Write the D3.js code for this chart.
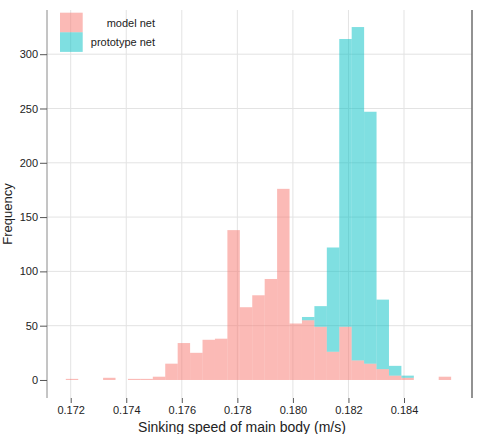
<!DOCTYPE html>
<html>
<head>
<meta charset="utf-8">
<script src="https://cdn.jsdelivr.net/npm/d3@7"></script>
<style>
  body { margin: 0; background: #fff; }
  text { font-family: "Liberation Sans", Arial, sans-serif; }
</style>
</head>
<body>
<div id="graph"></div>
<script>
// histogram bins (shared by both groups)
const binStart = 0.171824;
const binWidth = 0.0004475;

// counts per bin
const modelNet = [1, 0, 0, 2, 0, 1, 1, 3, 15, 34, 25, 37, 38, 138, 67, 78, 93, 176, 52, 55,
    49, 26, 49, 18, 15, 10, 4, 2, 0, 0, 3];
const prototypeNet = [0, 0, 0, 0, 0, 0, 0, 0, 0, 0, 0, 0, 0, 0, 0, 0, 0, 0, 0, 3,
    19, 96, 265, 307, 232, 64, 9, 2, 0, 0, 0];

const groups = ["model net", "prototype net"];
const colors = ["#F8766D", "#00BFC4"];

const xTicks = [0.172, 0.174, 0.176, 0.178, 0.180, 0.182, 0.184];
const yTicks = [0, 50, 100, 150, 200, 250, 300];

const width = 479, height = 434;
const panel = { left: 47, right: 472, top: 10, bottom: 398 };

const svg = d3.select("#graph")
    .append("svg")
    .attr("width", width)
    .attr("height", height);

let x = d3.scaleLinear()
    .domain([0.171147, 0.186448])
    .range([panel.left, panel.right]);

let y = d3.scaleLinear()
    .domain([-16.6, 340.7])
    .range([panel.bottom, panel.top]);

// gridlines
svg.append("g")
    .selectAll("line")
    .data(xTicks)
    .join("line")
    .attr("x1", d => x(d)).attr("x2", d => x(d))
    .attr("y1", panel.top).attr("y2", panel.bottom)
    .attr("stroke", "#e3e3e3");

svg.append("g")
    .selectAll("line")
    .data(yTicks.filter(d => d > 0))
    .join("line")
    .attr("x1", panel.left).attr("x2", panel.right)
    .attr("y1", d => y(d)).attr("y2", d => y(d))
    .attr("stroke", "#e3e3e3");

// stacked bars
const table = modelNet.map((m, i) => ({
    x0: binStart + i * binWidth,
    "model net": m,
    "prototype net": prototypeNet[i]
}));
const stacked = d3.stack().keys(groups)(table);

svg.append("g")
    .selectAll("g")
    .data(stacked)
    .join("g")
    .attr("fill", (d, i) => colors[i])
    .attr("fill-opacity", 0.5)
    .selectAll("rect")
    .data(d => d.filter(s => s[1] - s[0] > 0))
    .join("rect")
    .attr("x", d => x(d.data.x0))
    .attr("width", d => x(d.data.x0 + binWidth) - x(d.data.x0))
    .attr("y", d => y(d[1]))
    .attr("height", d => y(d[0]) - y(d[1]));

// left and right frame lines
svg.append("line")
    .attr("x1", panel.left).attr("x2", panel.left)
    .attr("y1", panel.top).attr("y2", panel.bottom)
    .attr("stroke", "#8a8a8a");
svg.append("line")
    .attr("x1", panel.right).attr("x2", panel.right)
    .attr("y1", panel.top).attr("y2", panel.bottom)
    .attr("stroke", "#6e6e6e").attr("stroke-width", 1.5);

// Y axis
const yAxis = svg.append("g")
    .attr("transform", "translate(" + panel.left + ",0)")
    .call(d3.axisLeft(y).tickValues(yTicks).tickSize(7).tickPadding(2));
yAxis.select(".domain").remove();
yAxis.selectAll(".tick line").attr("stroke", "#555");
yAxis.selectAll("text").attr("fill", "#222").style("font-size", "11px");

// X axis
const xAxis = svg.append("g")
    .attr("transform", "translate(0," + panel.bottom + ")")
    .call(d3.axisBottom(x).tickValues(xTicks).tickSize(5).tickPadding(3).tickFormat(d3.format(".3f")));
xAxis.select(".domain").remove();
xAxis.selectAll(".tick line").attr("stroke", "#555");
xAxis.selectAll("text").attr("fill", "#222").style("font-size", "11px");

// axis titles
svg.append("text")
    .attr("x", 242).attr("y", 432)
    .attr("text-anchor", "middle")
    .style("font-size", "14px")
    .attr("fill", "#222")
    .text("Sinking speed of main body (m/s)");

svg.append("text")
    .attr("transform", "translate(12,214) rotate(-90)")
    .attr("text-anchor", "middle")
    .style("font-size", "13px")
    .attr("fill", "#222")
    .text("Frequency");

// legend
const legend = svg.append("g");
groups.forEach((g, i) => {
    legend.append("rect")
        .attr("x", 60).attr("y", 12.7 + i * 19.6)
        .attr("width", 22.7).attr("height", 19.6)
        .attr("fill", colors[i]).attr("fill-opacity", 0.5);
    legend.append("text")
        .attr("x", 155).attr("y", 26.5 + i * 19.6)
        .attr("text-anchor", "end")
        .style("font-size", "11px")
        .attr("fill", "#222")
        .text(g);
});
</script>
</body>
</html>
